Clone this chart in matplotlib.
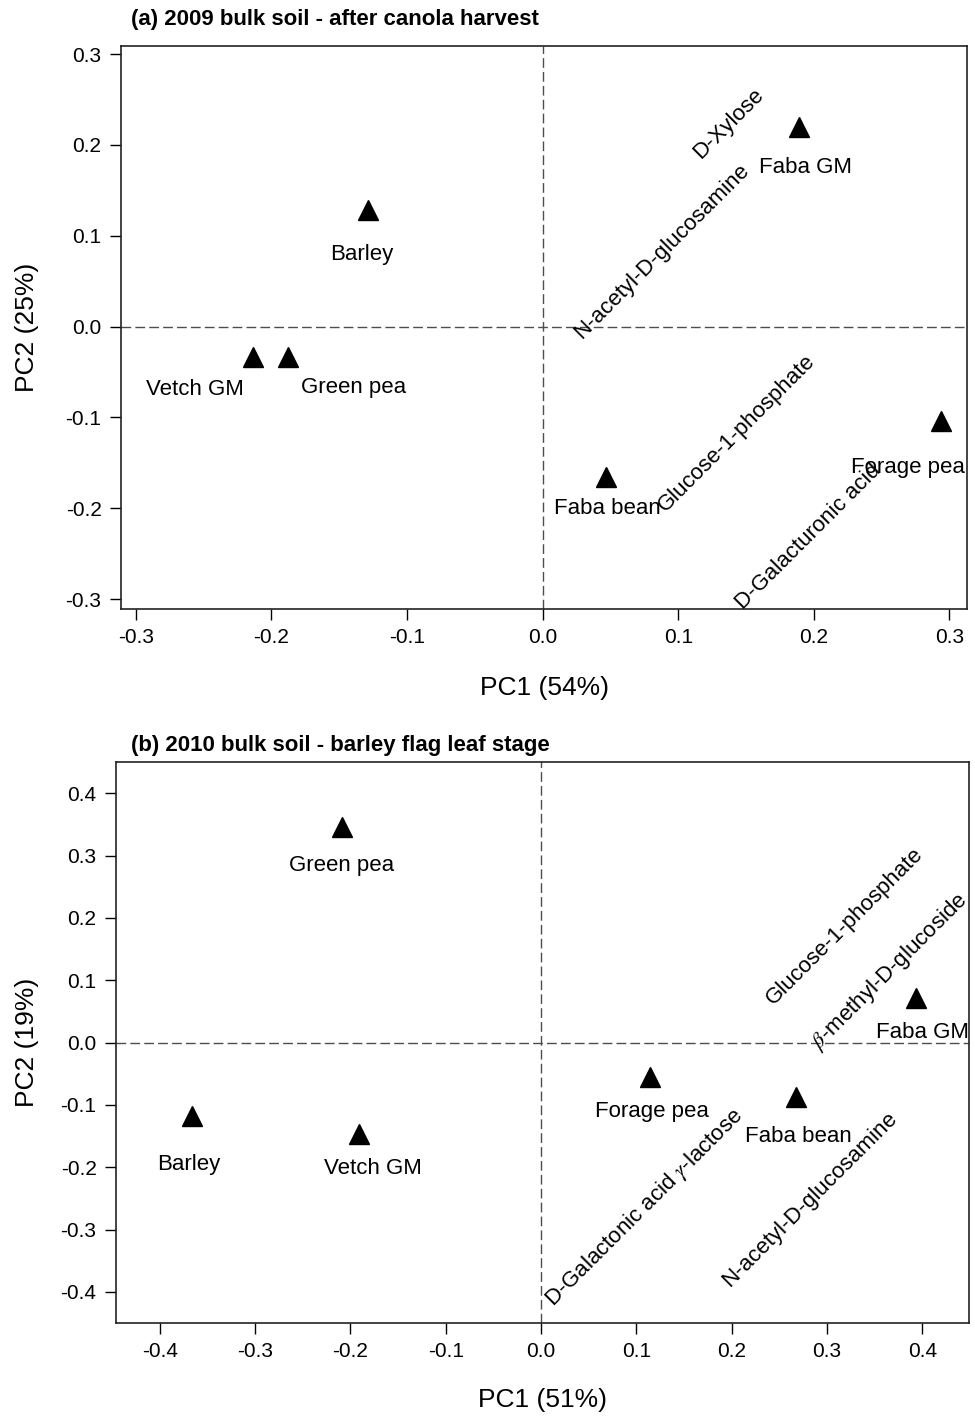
import matplotlib
matplotlib.use('Agg')
import matplotlib.pyplot as plt

plt.rcParams['font.family'] = ['Liberation Sans', 'DejaVu Sans']
plt.rcParams['mathtext.fontset'] = 'stix'
plt.rcParams['axes.unicode_minus'] = False

# Panel (a) scores
A_NAMES = ['Barley', 'Vetch GM', 'Green pea', 'Faba GM', 'Faba bean', 'Forage pea']
A_PC1 = [-0.129, -0.214, -0.188, 0.189, 0.047, 0.294]
A_PC2 = [0.128, -0.033, -0.033, 0.220, -0.166, -0.104]
A_SUBSTRATES = ['D-Xylose', 'N-acetyl-D-glucosamine', 'Glucose-1-phosphate', 'D-Galacturonic acid']
A_TICKS = [-0.3, -0.2, -0.1, 0.0, 0.1, 0.2, 0.3]

# Panel (b) scores
B_NAMES = ['Green pea', 'Barley', 'Vetch GM', 'Forage pea', 'Faba bean', 'Faba GM']
B_PC1 = [-0.209, -0.366, -0.191, 0.114, 0.267, 0.393]
B_PC2 = [0.345, -0.118, -0.146, -0.056, -0.088, 0.072]
B_SUBSTRATES = ['Glucose-1-phosphate', r'$\beta$-methyl-D-glucoside',
                r'D-Galactonic acid $\gamma$-lactose', 'N-acetyl-D-glucosamine']
B_TICKS = [-0.4, -0.3, -0.2, -0.1, 0.0, 0.1, 0.2, 0.3, 0.4]

# Layout: label offsets (pixels) and substrate text positions
A_LAB_OFF = [(-6, -44), (-58, -33), (66, -31), (7, -41), (1, -31), (-90, -46)]
A_LAB_HA = ['center', 'center', 'center', 'center', 'center', 'left']
A_SUB_POS = [(0.137, 0.224), (0.088, 0.083), (0.143, -0.117), (0.196, -0.232)]
B_LAB_OFF = [(0, -38), (-3, -48), (14, -35), (2, -34), (3, -39), (7, -35)]
B_LAB_HA = ['center'] * 6
B_SUB_POS = [(0.319, 0.187), (0.366, 0.114), (0.1085, -0.265), (0.282, -0.252)]

fig = plt.figure(figsize=(9.75, 14.21), dpi=100)
W, H = 975, 1421


def make_axes(l, t, r, b):
    return fig.add_axes([l / W, 1 - b / H, (r - l) / W, (b - t) / H])


def draw_panel(ax, names, pc1, pc2, offs, has, subs, sub_pos, ticks, xlim, ylim,
               xlabel, ylabel):
    ax.axhline(0, color='#4d4d4d', lw=1.0, dashes=(7, 3), zorder=1)
    ax.axvline(0, color='#4d4d4d', lw=1.0, dashes=(7, 3), zorder=1)
    ax.plot(pc1, pc2, linestyle='none', marker='^', ms=14, color='black', zorder=3)
    for name, x, y, off, ha in zip(names, pc1, pc2, offs, has):
        ax.annotate(name, (x, y), xytext=off, textcoords='offset pixels',
                    ha=ha, va='center', fontsize=16, annotation_clip=False,
                    clip_on=True)
    for s, (x, y) in zip(subs, sub_pos):
        ax.text(x, y, s, rotation=45, rotation_mode='anchor', ha='center',
                va='center', fontsize=16, clip_on=True)
    ax.set_xlim(*xlim)
    ax.set_ylim(*ylim)
    ax.set_xticks(ticks)
    ax.set_yticks(ticks)
    ax.set_xticklabels(['%.1f' % t for t in ticks])
    ax.set_yticklabels(['%.1f' % t for t in ticks])
    ax.tick_params(direction='out', length=8, width=1, labelsize=15, pad=6)
    for sp in ax.spines.values():
        sp.set_color('#222222')
        sp.set_linewidth(1.2)
    ax.set_xlabel(xlabel, fontsize=19)
    ax.set_ylabel(ylabel, fontsize=19)


ax1 = make_axes(121, 46, 967, 609)
draw_panel(ax1, A_NAMES, A_PC1, A_PC2, A_LAB_OFF, A_LAB_HA, A_SUBSTRATES, A_SUB_POS,
           A_TICKS, (-0.311, 0.313), (-0.311, 0.309), 'PC1 (54%)', 'PC2 (25%)')
ax1.xaxis.set_label_coords(0.5, (609 - 688) / 563)
ax1.xaxis.label.set_va('center')
ax1.yaxis.set_label_coords((27 - 121) / 846, 0.5)
ax1.yaxis.label.set_va('center')

ax2 = make_axes(116, 762, 969, 1323)
draw_panel(ax2, B_NAMES, B_PC1, B_PC2, B_LAB_OFF, B_LAB_HA, B_SUBSTRATES, B_SUB_POS,
           B_TICKS, (-0.446, 0.449), (-0.45, 0.45), 'PC1 (51%)', 'PC2 (19%)')
ax2.xaxis.set_label_coords(0.5, (1323 - 1400) / 561)
ax2.xaxis.label.set_va('center')
ax2.yaxis.set_label_coords((27 - 116) / 853, 0.5)
ax2.yaxis.label.set_va('center')

fig.text(131 / W, 1 - 20 / H, '(a) 2009 bulk soil - after canola harvest',
         fontsize=16, fontweight='bold', ha='left', va='center')
fig.text(131 / W, 1 - 746 / H, '(b) 2010 bulk soil - barley flag leaf stage',
         fontsize=16, fontweight='bold', ha='left', va='center')

fig.savefig('out.png', dpi=100)
